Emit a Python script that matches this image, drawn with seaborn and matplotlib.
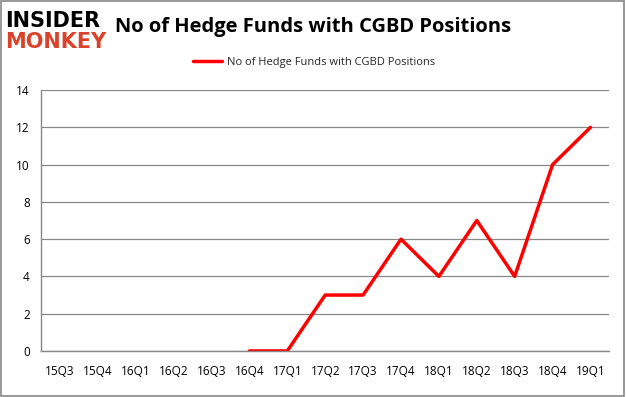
import numpy as np
import pandas as pd
import matplotlib
matplotlib.use("Agg")
import matplotlib.pyplot as plt
import seaborn as sns
from matplotlib.patches import Rectangle

# data
quarters = ['15Q3', '15Q4', '16Q1', '16Q2', '16Q3', '16Q4', '17Q1', '17Q2',
            '17Q3', '17Q4', '18Q1', '18Q2', '18Q3', '18Q4', '19Q1']
hedge_funds = [np.nan, np.nan, np.nan, np.nan, np.nan, 0, 0, 3,
               3, 6, 4, 7, 4, 10, 12]
series_name = 'No of Hedge Funds with CGBD Positions'

sns.set_style("white")
plt.rcParams['font.family'] = ['Open Sans', 'DejaVu Sans']

df = pd.DataFrame({'x': np.arange(len(quarters)), 'y': hedge_funds})

fig = plt.figure(figsize=(6.26, 3.97), dpi=100)
ax = fig.add_axes([0.0655, 0.116, 0.908, 0.657])

sns.lineplot(data=df, x='x', y='y', ax=ax, color='#ff0000', linewidth=2.5,
             label=series_name, legend=False)

ax.set_xlim(-0.5, len(quarters) - 0.5)
ax.set_ylim(0, 14)
ax.set_yticks(range(0, 15, 2))
ax.set_xticks(np.arange(len(quarters)))
ax.set_xticklabels(quarters)
ax.set_xticks(np.arange(-0.5, len(quarters), 1), minor=True)
ax.tick_params(axis='x', which='major', length=0, pad=10, labelsize=8.5,
               labelcolor='black')
ax.tick_params(axis='x', which='minor', length=5, color='#888888', width=1)
ax.tick_params(axis='y', length=5, color='#888888', width=1, labelsize=8.5,
               pad=3, labelcolor='black')
ax.set_xlabel('')
ax.set_ylabel('')
ax.grid(axis='y', color='#888888', linewidth=0.9)
ax.set_axisbelow(True)
for side in ['top', 'right']:
    ax.spines[side].set_visible(False)
for side in ['left', 'bottom']:
    ax.spines[side].set_color('#888888')
    ax.spines[side].set_linewidth(1)

# legend
handles, labels = ax.get_lines(), [series_name]
fig.legend(handles[:1], labels, loc='center', bbox_to_anchor=(0.502, 0.843),
           frameon=False, fontsize=8, handlelength=2.6, handletextpad=0.5)

# title
fig.text(0.50, 0.931, series_name, ha='center', va='center',
         fontsize=14.5, fontweight='bold', color='black')

# logo
fig.text(0.008, 0.948, 'INSIDER', ha='left', va='center', fontsize=15,
         fontweight='heavy', color='black', family='DejaVu Sans')
fig.text(0.008, 0.893, 'MONKEY', ha='left', va='center', fontsize=15,
         fontweight='heavy', color='#d9432b', family='DejaVu Sans')

# outer border
fig.patches.append(Rectangle((0.002, 0.003), 0.995, 0.994, transform=fig.transFigure,
                             fill=False, edgecolor='#888888', linewidth=1.2))

fig.savefig('out.png', dpi=100)
